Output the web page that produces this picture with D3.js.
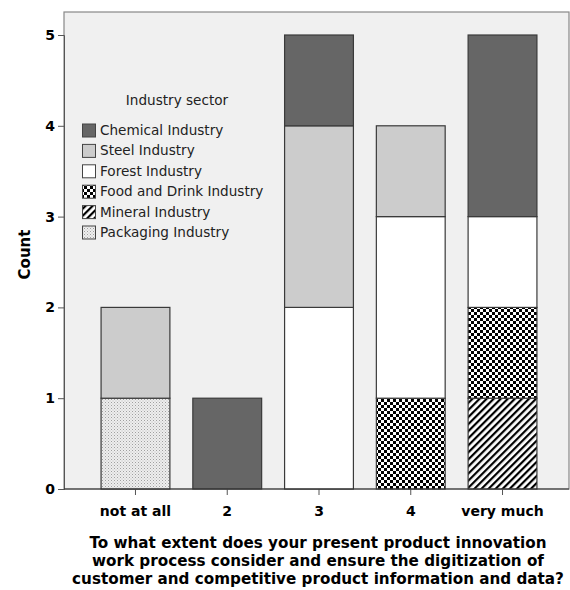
<!DOCTYPE html>
<html>
<head>
<meta charset="utf-8">
<script src="https://cdn.jsdelivr.net/npm/d3@7"></script>
<style>
  body { margin: 0; background: #fff; }
  svg text { font-family: "DejaVu Sans", Verdana, sans-serif; }
  .tick-lbl { font-size: 14px; font-weight: bold; fill: #000; }
  .leg-text { font-size: 13.6px; fill: #222; }
</style>
</head>
<body>
<div id="chart"></div>
<script>
// categories along x
const categories = ['not at all', '2', '3', '4', 'very much'];
// sectors, legend order (top of stack first)
const sectors = ['Chemical Industry', 'Steel Industry', 'Forest Industry', 'Food and Drink Industry', 'Mineral Industry', 'Packaging Industry'];
// counts per sector, aligned with categories
const chemical  = [0, 1, 1, 0, 2];
const steel     = [1, 0, 2, 1, 0];
const forest    = [0, 0, 2, 2, 1];
const foodDrink = [0, 0, 0, 1, 1];
const mineral   = [0, 0, 0, 0, 1];
const packaging = [1, 0, 0, 0, 0];
const yTicks = [0, 1, 2, 3, 4, 5];
const xTitle = ['To what extent does your present product innovation',
                'work process consider and ensure the digitization of',
                'customer and competitive product information and data?'];

const seriesValues = [chemical, steel, forest, foodDrink, mineral, packaging];
const fills = ['#666666', '#cccccc', '#ffffff', 'url(#pFood)', 'url(#pMineral)', 'url(#pPack)'];

const W = 570, H = 590;
const plot = { left: 64, top: 12, right: 569, bottom: 489 };

const svg = d3.select('#chart').append('svg').attr('width', W).attr('height', H);
const defs = svg.append('defs');

// checkerboard
const pf = defs.append('pattern').attr('id', 'pFood').attr('patternUnits', 'userSpaceOnUse')
  .attr('width', 6).attr('height', 6);
pf.append('rect').attr('width', 6).attr('height', 6).attr('fill', '#fff');
pf.append('rect').attr('width', 3).attr('height', 3).attr('fill', '#000');
pf.append('rect').attr('x', 3).attr('y', 3).attr('width', 3).attr('height', 3).attr('fill', '#000');

// diagonal stripes
const pm = defs.append('pattern').attr('id', 'pMineral').attr('patternUnits', 'userSpaceOnUse')
  .attr('width', 5).attr('height', 5).attr('patternTransform', 'rotate(45)');
pm.append('rect').attr('width', 5).attr('height', 5).attr('fill', '#fff');
pm.append('rect').attr('width', 2.2).attr('height', 5).attr('fill', '#000');

// fine dots
const pp = defs.append('pattern').attr('id', 'pPack').attr('patternUnits', 'userSpaceOnUse')
  .attr('width', 3).attr('height', 3);
pp.append('rect').attr('width', 3).attr('height', 3).attr('fill', '#eeeeee');
pp.append('rect').attr('width', 1).attr('height', 1).attr('fill', '#a0a0a0');
pp.append('rect').attr('x', 1.5).attr('y', 1.5).attr('width', 1).attr('height', 1).attr('fill', '#bbbbbb');

// plot background
svg.append('rect')
  .attr('x', plot.left).attr('y', plot.top)
  .attr('width', plot.right - plot.left).attr('height', plot.bottom - plot.top)
  .attr('fill', '#f0f0f0').attr('stroke', '#888').attr('stroke-width', 1.2);

const x = d3.scaleBand().domain(categories).range([89.6, 548.4])
  .paddingInner(0.25).paddingOuter(0.125);
const y = d3.scaleLinear().domain([0, 5]).range([489, 35]);

// stack from bottom: packaging first
const table = categories.map((c, i) => {
  const row = { cat: c };
  sectors.forEach((s, j) => row[s] = seriesValues[j][i]);
  return row;
});
const stack = d3.stack().keys(sectors.slice().reverse())(table);

stack.forEach(layer => {
  const j = sectors.indexOf(layer.key);
  svg.append('g').selectAll('rect')
    .data(layer.filter(d => d[1] > d[0]))
    .enter().append('rect')
    .attr('x', d => x(d.data.cat))
    .attr('width', x.bandwidth())
    .attr('y', d => y(d[1]))
    .attr('height', d => y(d[0]) - y(d[1]))
    .attr('fill', fills[j])
    .attr('stroke', '#3a3a3a')
    .attr('stroke-width', 1.2);
});

// y axis
const yAxis = svg.append('g').attr('transform', `translate(${plot.left},0)`)
  .call(d3.axisLeft(y).tickValues(yTicks).tickSize(6).tickFormat(d3.format('d')));
yAxis.select('.domain').attr('stroke', '#555');
yAxis.selectAll('.tick line').attr('stroke', '#555');
yAxis.selectAll('.tick text').attr('class', 'tick-lbl').attr('x', -9);

// x axis
const xAxis = svg.append('g').attr('transform', `translate(0,${plot.bottom})`)
  .call(d3.axisBottom(x).tickSize(6).tickSizeOuter(0));
xAxis.select('.domain').remove();
xAxis.selectAll('.tick line').attr('stroke', '#555');
xAxis.selectAll('.tick text').attr('class', 'tick-lbl').attr('y', 17);
svg.append('line').attr('x1', plot.left).attr('x2', plot.right)
  .attr('y1', plot.bottom).attr('y2', plot.bottom).attr('stroke', '#333').attr('stroke-width', 1.2);

// axis titles
svg.append('text')
  .attr('transform', `translate(30,${(plot.top + plot.bottom) / 2 + 4}) rotate(-90)`)
  .attr('text-anchor', 'middle').attr('class', 'tick-lbl').style('font-size', '15px')
  .text('Count');

svg.append('g').selectAll('text').data(xTitle).enter().append('text')
  .attr('x', 318).attr('y', (d, i) => 548 + i * 18)
  .attr('text-anchor', 'middle').attr('class', 'tick-lbl').style('font-size', '15.2px')
  .text(d => d);

// legend
const leg = svg.append('g');
leg.append('text').attr('x', 177).attr('y', 105).attr('text-anchor', 'middle')
  .attr('class', 'leg-text').text('Industry sector');
sectors.forEach((s, j) => {
  const ly = 124 + j * 20.4;
  leg.append('rect').attr('x', 82.5).attr('y', ly).attr('width', 13).attr('height', 13)
    .attr('fill', fills[j]).attr('stroke', '#444').attr('stroke-width', 1);
  leg.append('text').attr('x', 100).attr('y', ly + 11).attr('class', 'leg-text').text(s);
});
</script>
</body>
</html>
